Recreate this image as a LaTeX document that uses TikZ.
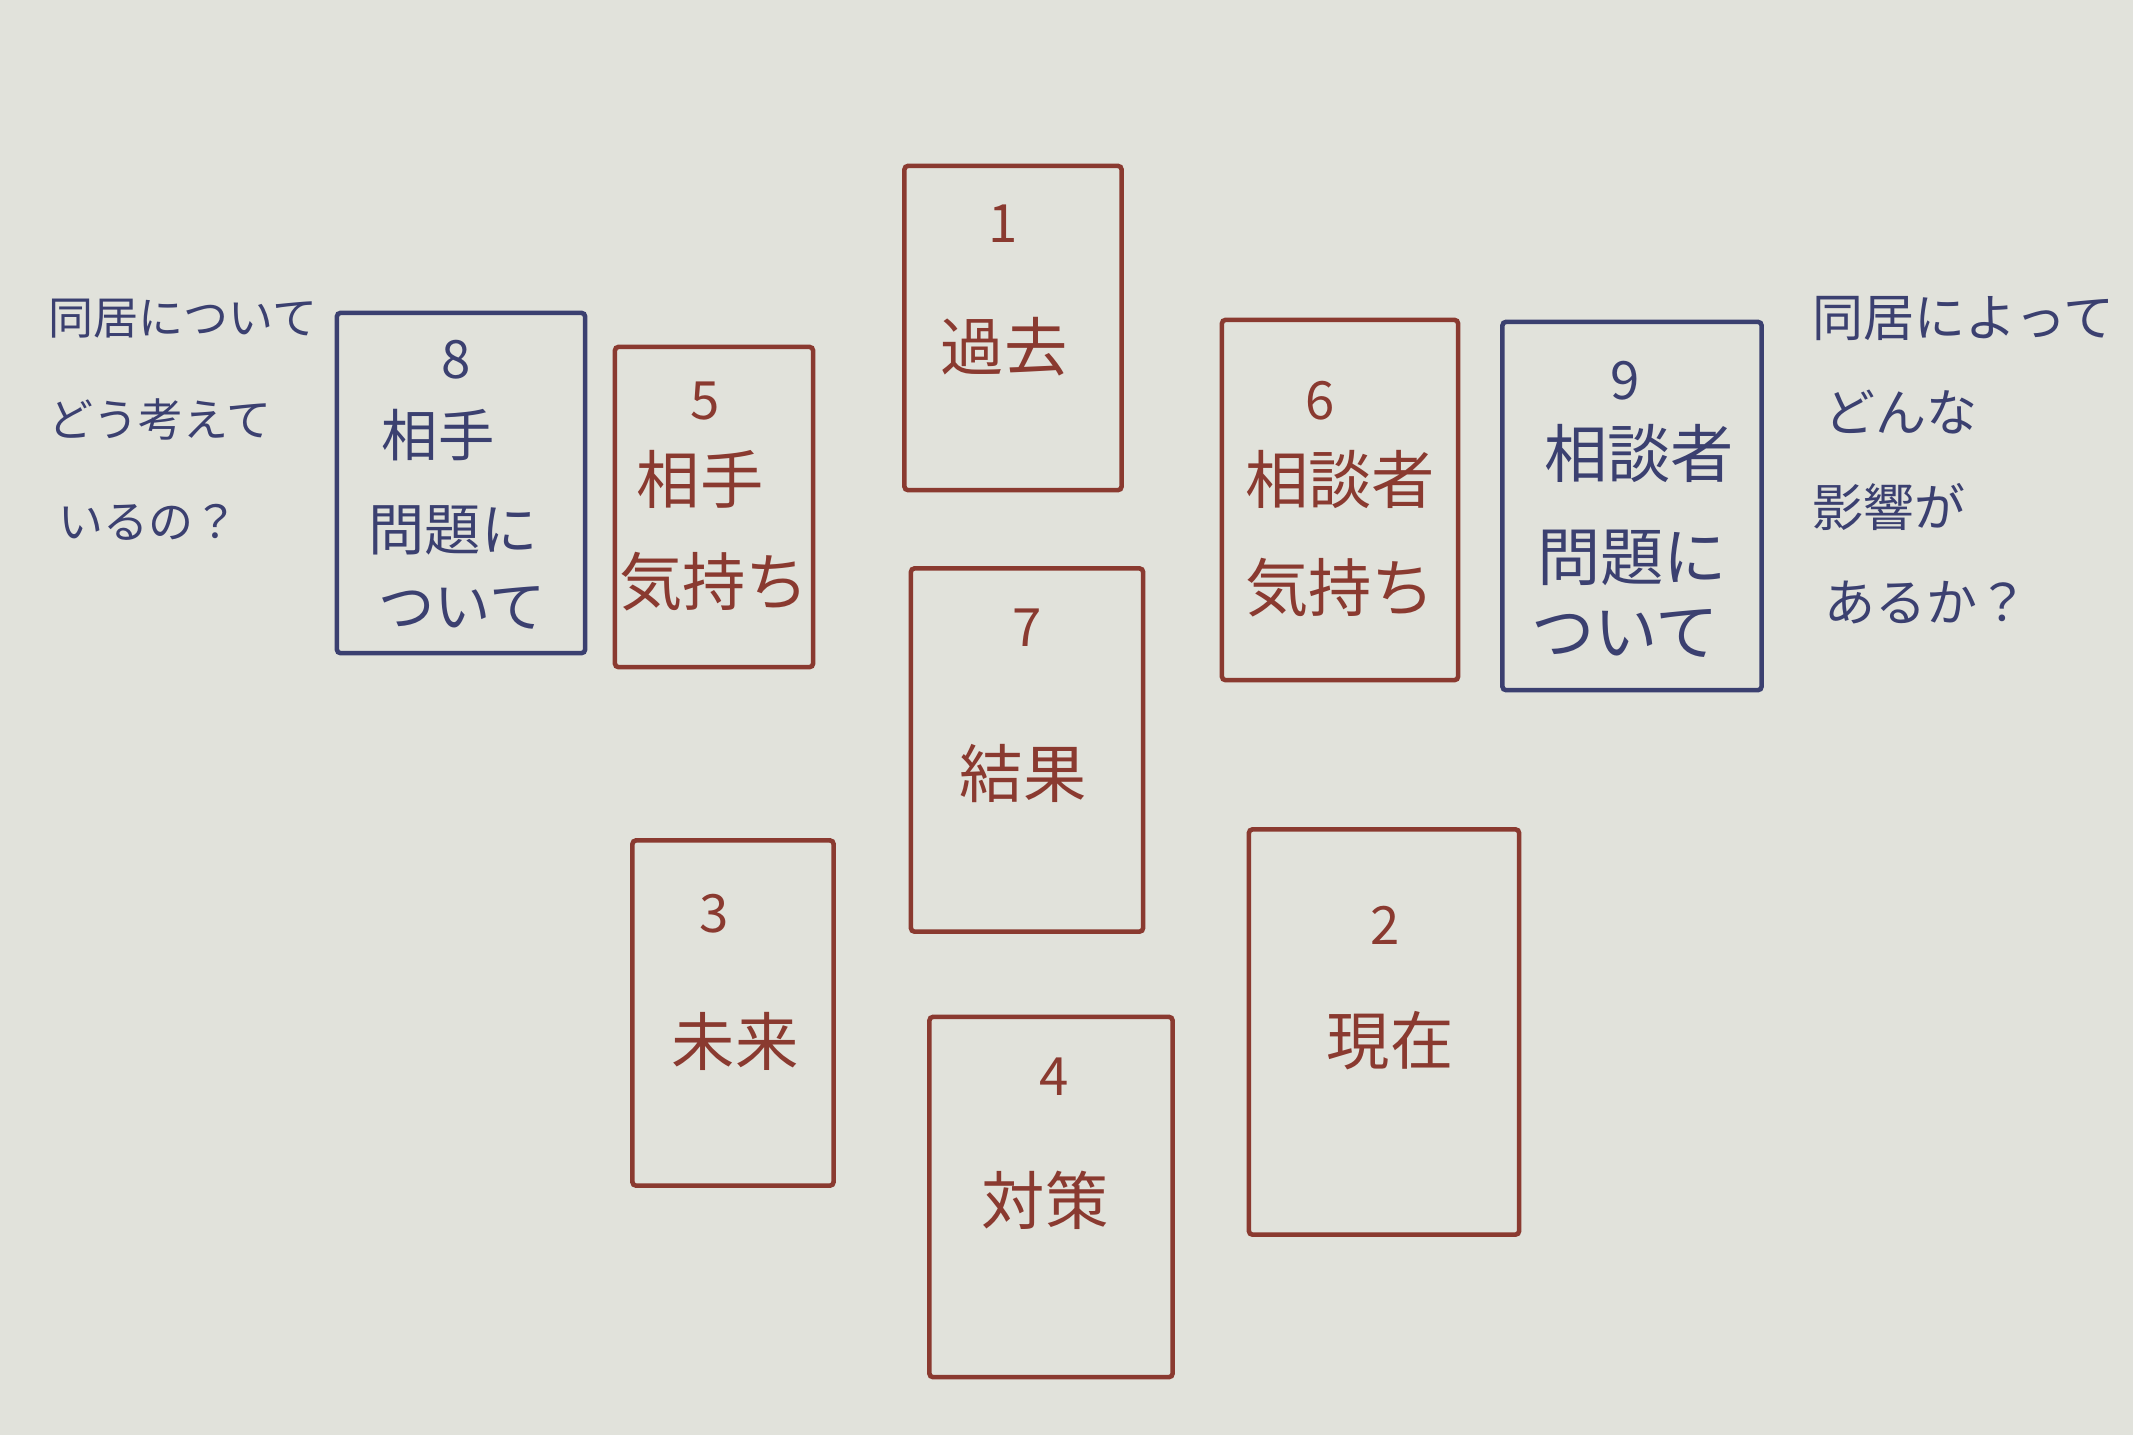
\documentclass[tikz,border=0pt]{standalone}
\usepackage{fontspec}
\setmainfont{Noto Sans CJK JP}
\usetikzlibrary{calc}

\definecolor{paper}{HTML}{E1E2DB}
\definecolor{redink}{HTML}{8A3A30}
\definecolor{blueink}{HTML}{3B4070}

\tikzset{
  redcard/.style={draw=redink,line width=1.3pt,rounded corners=1pt},
  bluecard/.style={draw=blueink,line width=1.3pt,rounded corners=1pt},
  num/.style={text=#1,font=\fontsize{15}{15}\selectfont,inner sep=0pt},
  word/.style={text=#1,font=\fontsize{18}{18}\selectfont,inner sep=0pt},
  note/.style={text=blueink,inner sep=0pt,align=left,anchor=north west}
}

\begin{document}
\begin{tikzpicture}[x=0.01cm,y=-0.01cm]
          \fill[paper] (0,0) rectangle (2133,1435);
          \useasboundingbox (0,0) rectangle (2133,1435);
          % notes
          \node[note,font=\fontsize{12.8}{29}\selectfont] (leftnote) at (48,298) {同居について\\どう考えて\\\ いるの？};
          \node[note,font=\fontsize{14.5}{27}\selectfont] (rightnote) at (1812,296) {同居によって\\\ どんな\\影響が\\\ あるか？};
          % cards
          \node[redcard,minimum width=2.17cm,minimum height=3.24cm] (past) at (1013,328) {};
          \node[num=redink] (past-n) at (1003,224) {1};
          \node[word=redink] (past-w) at (1004,347) {過去};
          \node[bluecard,minimum width=2.48cm,minimum height=3.40cm] (other-q) at (461,483) {};
          \node[num=blueink] (other-q-n) at (456,360) {8};
          \node[word=blueink,font=\fontsize{16}{16}\selectfont] (other-q-w1) at (438,435) {相手};
          \node[word=blueink,font=\fontsize{16}{16}\selectfont] (other-q-w2) at (453,530) {問題に};
          \node[word=blueink,font=\fontsize{16}{16}\selectfont] (other-q-w3) at (462,608) {ついて};
          \node[redcard,minimum width=1.98cm,minimum height=3.20cm] (other-f) at (714,507) {};
          \node[num=redink] (other-f-n) at (705,401) {5};
          \node[word=redink] (other-f-w1) at (700,479) {相手};
          \node[word=redink] (other-f-w2) at (714,582) {気持ち};
          \node[redcard,minimum width=2.36cm,minimum height=3.60cm] (self-f) at (1340,500) {};
          \node[num=redink] (self-f-n) at (1320,401) {6};
          \node[word=redink] (self-f-w1) at (1340,479) {相談者};
          \node[word=redink] (self-f-w2) at (1340,588) {気持ち};
          \node[bluecard,minimum width=2.59cm,minimum height=3.68cm] (self-q) at (1632,506) {};
          \node[num=blueink] (self-q-n) at (1625,381) {9};
          \node[word=blueink] (self-q-w1) at (1639,453) {相談者};
          \node[word=blueink] (self-q-w2) at (1632,558) {問題に};
          \node[word=blueink] (self-q-w3) at (1625,633) {ついて};
          \node[redcard,minimum width=2.32cm,minimum height=3.63cm] (result) at (1027,750) {};
          \node[num=redink] (result-n) at (1027,628) {7};
          \node[word=redink] (result-w) at (1023,773) {結果};
          \node[redcard,minimum width=2.01cm,minimum height=3.45cm] (future) at (733,1013) {};
          \node[num=redink] (future-n) at (714,914) {3};
          \node[word=redink] (future-w) at (735,1041) {未来};
          \node[redcard,minimum width=2.43cm,minimum height=3.60cm] (plan) at (1051,1197) {};
          \node[num=redink] (plan-n) at (1054,1077) {4};
          \node[word=redink] (plan-w) at (1045,1200) {対策};
          \node[redcard,minimum width=2.70cm,minimum height=4.05cm] (now) at (1384,1032) {};
          \node[num=redink] (now-n) at (1385,925) {2};
          \node[word=redink] (now-w) at (1390,1041) {現在};
        \end{tikzpicture}
\end{document}
